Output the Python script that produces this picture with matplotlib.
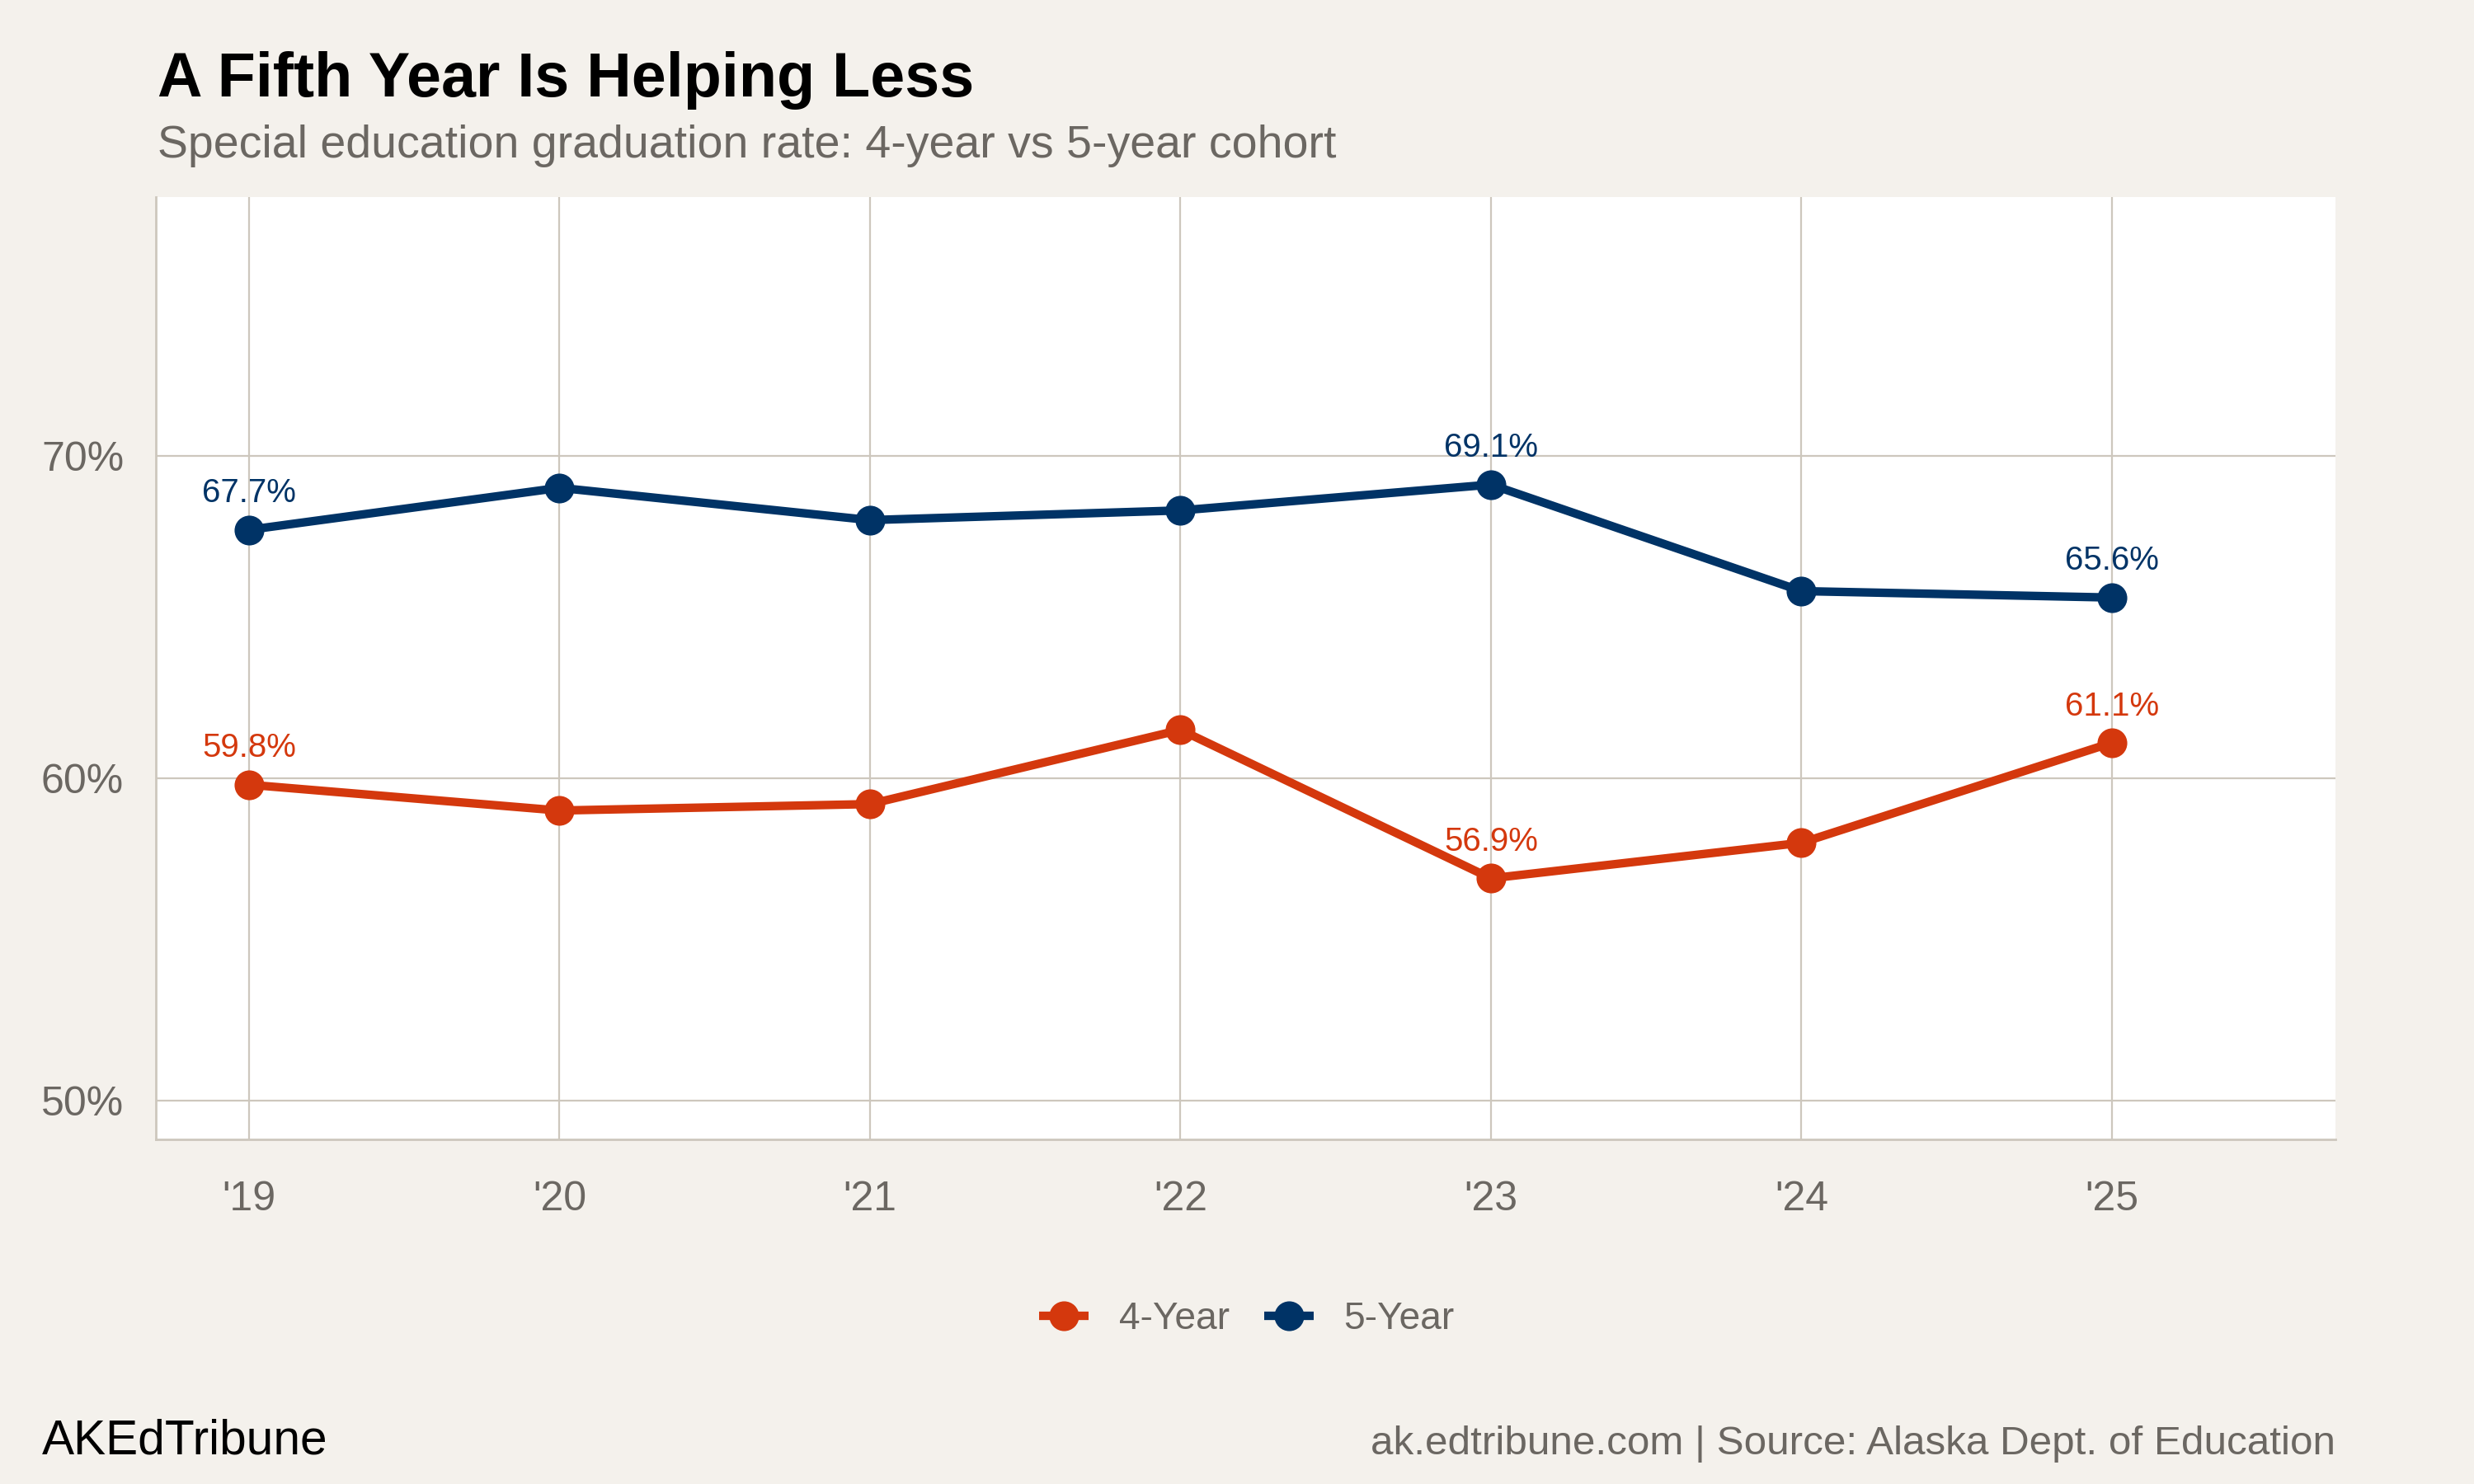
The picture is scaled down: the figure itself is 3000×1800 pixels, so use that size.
import matplotlib
matplotlib.use('Agg')
import matplotlib.pyplot as plt

# data
years = [2019, 2020, 2021, 2022, 2023, 2024, 2025]
year_labels = ["'19", "'20", "'21", "'22", "'23", "'24", "'25"]
rate_4yr = [59.8, 59.0, 59.2, 61.5, 56.9, 58.0, 61.1]
rate_5yr = [67.7, 69.0, 68.0, 68.3, 69.1, 65.8, 65.6]
labelled = [0, 4, 6]  # points that carry a value label
y_ticks = [50, 60, 70]

red = '#d4380d'
navy = '#003366'
bg = '#f4f1ec'
grid_c = '#cdc7bd'
gray = '#6b6762'

plt.rcParams['font.family'] = ['Liberation Sans', 'DejaVu Sans']

fig = plt.figure(figsize=(15, 9), dpi=200, facecolor=bg)
ax = fig.add_axes([0.063, 0.232, 0.881, 0.635])
ax.set_facecolor('white')

ax.plot(years, rate_4yr, color=red, lw=3.7, marker='o', ms=12, label='4-Year',
        solid_capstyle='butt', zorder=3)
ax.plot(years, rate_5yr, color=navy, lw=3.7, marker='o', ms=12, label='5-Year',
        solid_capstyle='butt', zorder=3)

for vals, c in [(rate_4yr, red), (rate_5yr, navy)]:
    for i in labelled:
        ax.annotate(f'{vals[i]:.1f}%', (years[i], vals[i]), xytext=(0, 12),
                    textcoords='offset points', ha='center', va='baseline',
                    fontsize=14.5, color=c)

ax.set_xlim(2018.7, 2025.72)
ax.set_ylim(48.8, 78)
ax.set_xticks(years)
ax.set_xticklabels(year_labels)
ax.set_yticks(y_ticks)
ax.set_yticklabels([f'{v}%' for v in y_ticks])
ax.tick_params(length=0, labelsize=18, labelcolor=gray, pad=14)
ax.tick_params(axis='x', pad=18)
ax.grid(True, color=grid_c, lw=0.8, zorder=0)
ax.set_axisbelow(True)
for s in ['top', 'right']:
    ax.spines[s].set_visible(False)
for s in ['left', 'bottom']:
    ax.spines[s].set_color(grid_c)
    ax.spines[s].set_linewidth(1.0)

leg = fig.legend(loc='center', bbox_to_anchor=(0.504, 0.111), ncol=2, frameon=False,
                 fontsize=16.6, handlelength=1.3, handletextpad=0.8, columnspacing=0.9)
for t in leg.get_texts():
    t.set_color(gray)

fig.text(0.0637, 0.935, 'A Fifth Year Is Helping Less', fontsize=27.2,
         fontweight='bold', color='black', va='baseline')
fig.text(0.0637, 0.894, 'Special education graduation rate: 4-year vs 5-year cohort',
         fontsize=20, color=gray, va='baseline')
fig.text(0.017, 0.02, 'AKEdTribune', fontsize=21.1, color='black', va='baseline')
fig.text(0.944, 0.02, 'ak.edtribune.com | Source: Alaska Dept. of Education',
         fontsize=17.8, color=gray, va='baseline', ha='right')

fig.savefig('out.png', dpi=200, facecolor=bg)
